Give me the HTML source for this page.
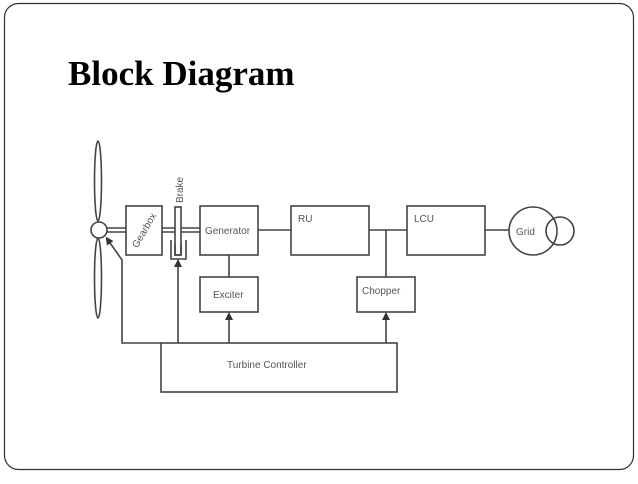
<!DOCTYPE html>
<html><head><style>
body{margin:0;width:638px;height:479px;background:#fff;overflow:hidden}
</style></head><body>
<svg width="638" height="479" viewBox="0 0 638 479" xmlns="http://www.w3.org/2000/svg">
<defs><marker id="a" markerWidth="8" markerHeight="8" refX="4" refY="4" orient="auto" markerUnits="userSpaceOnUse"><path d="M0,0 L8,4 L0,8 z" fill="#333"/></marker></defs>
<rect x="4.5" y="3.5" width="629" height="466" rx="14" fill="#fff" stroke="#333" stroke-width="1.2"/>
<text x="68" y="85" font-family="Liberation Serif, serif" font-weight="bold" font-size="35" fill="#000">Block Diagram</text>
<g stroke="#444" stroke-width="1.6" fill="none" font-family="Liberation Sans, sans-serif">
<ellipse cx="98" cy="181" rx="3.5" ry="40"/>
<ellipse cx="98" cy="278" rx="3.5" ry="40"/>
<line x1="106" y1="228" x2="200" y2="228"/><line x1="106" y1="232" x2="200" y2="232"/>
<circle cx="99" cy="230" r="8" fill="#fff"/>
<rect x="126" y="206" width="36" height="49" fill="#fff"/>
<rect x="175" y="207" width="6" height="48" fill="#fff"/>
<path d="M171,240 V259 H186 V240"/><path d="M175,244 V255 H181 V244"/>
<rect x="200" y="206" width="58" height="49"/>
<rect x="291" y="206" width="78" height="49"/>
<rect x="407" y="206" width="78" height="49"/>
<circle cx="533" cy="231" r="24"/><circle cx="560" cy="231" r="14"/>
<line x1="258" y1="230" x2="291" y2="230"/><line x1="369" y1="230" x2="407" y2="230"/>
<line x1="485" y1="230" x2="509" y2="230"/>
<line x1="386" y1="230" x2="386" y2="277"/>
<line x1="229" y1="255" x2="229" y2="277"/>
<rect x="200" y="277" width="58" height="35"/>
<rect x="357" y="277" width="58" height="35"/>
<rect x="161" y="343" width="236" height="49"/>
<path d="M161,343 H122 V260 L108,240" marker-end="url(#a)"/>
<line x1="178" y1="343" x2="178" y2="263" marker-end="url(#a)"/>
<line x1="229" y1="343" x2="229" y2="316" marker-end="url(#a)"/>
<line x1="386" y1="343" x2="386" y2="316" marker-end="url(#a)"/>
</g>
<g font-family="Liberation Sans, sans-serif" font-size="10" fill="#555">
<text transform="translate(147,232) rotate(-60)" text-anchor="middle">Gearbox</text>
<text transform="translate(183,203) rotate(-90)">Brake</text>
<text x="205" y="234">Generator</text>
<text x="298" y="222">RU</text>
<text x="414" y="222">LCU</text>
<text x="516" y="235">Grid</text>
<text x="213" y="298">Exciter</text>
<text x="362" y="294">Chopper</text>
<text x="227" y="368">Turbine Controller</text>
</g>
</svg>
</body></html>
